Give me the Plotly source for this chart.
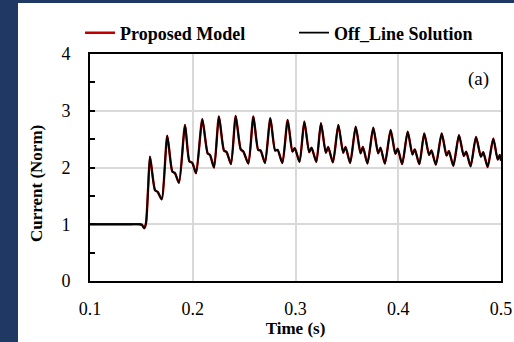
import plotly.graph_objects as go

# Time (s) samples (key points per cycle)
time_s = [
    0.1000, 0.1200, 0.1400, 0.1480, 0.1505, 0.1528, 0.1545, 0.1566,
    0.1584, 0.1633, 0.1659, 0.1698,
    0.1752, 0.1801, 0.1827, 0.1866,
    0.1925, 0.1967, 0.1996, 0.2032,
    0.2093, 0.2145, 0.2168, 0.2207,
    0.2255, 0.2304, 0.2330, 0.2372,
    0.2418, 0.2467, 0.2493, 0.2541,
    0.2590, 0.2637, 0.2660, 0.2703,
    0.2755, 0.2802, 0.2826, 0.2872,
    0.2924, 0.2970, 0.2993, 0.3039,
    0.3086, 0.3133, 0.3156, 0.3202,
    0.3248, 0.3295, 0.3318, 0.3364,
    0.3417, 0.3464, 0.3487, 0.3532,
    0.3586, 0.3633, 0.3656, 0.3700,
    0.3757, 0.3804, 0.3827, 0.3870,
    0.3926, 0.3972, 0.3995, 0.4038,
    0.4092, 0.4138, 0.4161, 0.4205,
    0.4253, 0.4300, 0.4323, 0.4366,
    0.4423, 0.4470, 0.4493, 0.4536,
    0.4591, 0.4638, 0.4661, 0.4704,
    0.4757, 0.4804, 0.4827, 0.4870,
    0.4925, 0.4968, 0.4988, 0.5000,
]

current_offline = [
    1.00, 1.00, 1.00, 1.00, 0.99, 0.93, 1.02, 1.65,
    2.19, 1.60, 1.57, 1.44,
    2.56, 1.93, 1.90, 1.73,
    2.75, 2.11, 2.08, 1.90,
    2.85, 2.25, 2.22, 2.00,
    2.90, 2.30, 2.27, 2.06,
    2.91, 2.32, 2.28, 2.07,
    2.90, 2.31, 2.30, 2.08,
    2.87, 2.30, 2.31, 2.08,
    2.84, 2.28, 2.34, 2.10,
    2.81, 2.27, 2.35, 2.10,
    2.78, 2.26, 2.36, 2.09,
    2.75, 2.26, 2.36, 2.08,
    2.72, 2.25, 2.36, 2.07,
    2.70, 2.25, 2.35, 2.07,
    2.66, 2.24, 2.33, 2.06,
    2.63, 2.23, 2.32, 2.06,
    2.60, 2.22, 2.30, 2.05,
    2.60, 2.21, 2.29, 2.03,
    2.57, 2.20, 2.28, 2.02,
    2.54, 2.19, 2.27, 2.01,
    2.51, 2.14, 2.22, 2.12,
]

current_proposed = list(current_offline)

series_names = ["Proposed Model", "Off_Line Solution"]
x_ticks = [0.1, 0.2, 0.3, 0.4, 0.5]
y_ticks = [0, 1, 2, 3, 4]

FONT = "Liberation Serif"
NAVY = "#1f3864"

fig = go.Figure()
fig.add_trace(go.Scatter(
    x=time_s, y=current_proposed, name=series_names[0], mode="lines",
    line=dict(color="#c00000", width=2.4, shape="spline", smoothing=0.65),
))
fig.add_trace(go.Scatter(
    x=time_s, y=current_offline, name=series_names[1], mode="lines",
    line=dict(color="#000000", width=1.8, shape="spline", smoothing=0.65),
))

W, H = 514, 342
L, R, T, B = 90, 13, 54, 61
pw, ph = W - L - R, H - T - B

def px2x(p):
    return (p - L) / pw

def py2y(p):
    return (H - B - p) / ph

fig.update_layout(
    width=W, height=H, autosize=False,
    margin=dict(l=L, r=R, t=T, b=B, pad=0, autoexpand=False),
    paper_bgcolor="white", plot_bgcolor="white",
    font=dict(family=FONT, color="black", size=18),
    showlegend=True,
    legend=dict(
        orientation="h", x=px2x(80), xanchor="left", y=py2y(33), yanchor="middle",
        font=dict(family=FONT, size=18, color="black", weight="bold"),
        bgcolor="rgba(0,0,0,0)", borderwidth=0, entrywidth=169, entrywidthmode="pixels",
        traceorder="normal",
    ),
    xaxis=dict(
        range=[0.1, 0.5], tickvals=x_ticks, ticktext=[f"{v:.1f}" for v in x_ticks],
        showgrid=True, gridcolor="#d9d9d9", gridwidth=1.5,
        showline=True, linecolor="black", linewidth=2, mirror=True,
        ticks="", zeroline=False, ticklabelstandoff=10, automargin=False,
        tickfont=dict(family=FONT, size=18, color="black"),
        title=dict(text="Time (s)", standoff=3,
                   font=dict(family=FONT, size=17, color="black", weight="bold")),
    ),
    yaxis=dict(
        range=[0, 4], tickvals=y_ticks,
        showgrid=True, gridcolor="#d9d9d9", gridwidth=1.5,
        showline=True, linecolor="black", linewidth=2, mirror=True,
        ticks="inside", ticklen=5, tickwidth=1.5, tickcolor="black",
        minor=dict(dtick=0.5, ticks="inside", ticklen=5, tickwidth=1.5, tickcolor="black", showgrid=False),
        zeroline=False, ticklabelstandoff=14, automargin=False,
        tickfont=dict(family=FONT, size=18, color="black"),
    ),
    annotations=[
        dict(text="(a)", xref="paper", yref="paper", x=px2x(478), y=py2y(79),
             xanchor="center", yanchor="middle", showarrow=False,
             font=dict(family=FONT, size=19, color="black")),
        dict(text="<b>Current (Norm)</b>", xref="paper", yref="paper", x=px2x(36), y=py2y(184),
             xanchor="center", yanchor="middle", showarrow=False, textangle=-90,
             font=dict(family=FONT, size=17, color="black")),
    ],
    shapes=[
        dict(type="rect", xref="paper", yref="paper", x0=px2x(0), x1=px2x(18),
             y0=py2y(H), y1=py2y(0), fillcolor=NAVY, line=dict(width=0), layer="above"),
        dict(type="rect", xref="paper", yref="paper", x0=px2x(0), x1=px2x(W),
             y0=py2y(3), y1=py2y(0), fillcolor=NAVY, line=dict(width=0), layer="above"),
    ],
)

fig.write_html("out.html")
